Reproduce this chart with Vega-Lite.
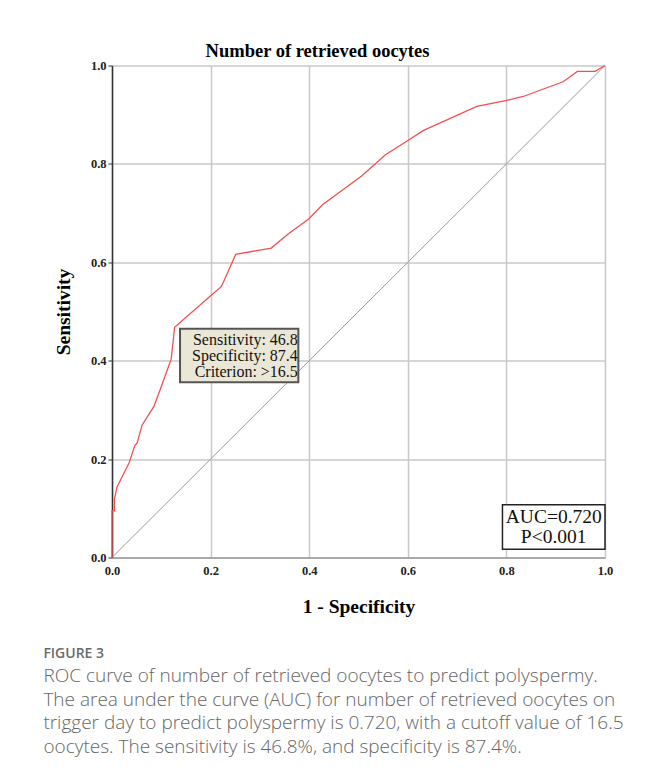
{
  "$schema": "https://vega.github.io/schema/vega-lite/v6.json",
  "background": "white",
  "padding": {"left": 43, "top": 41.5, "right": 4, "bottom": 20},
  "title": {
    "text": "FIGURE 3",
    "subtitle": [
      "ROC curve of number of retrieved oocytes to predict polyspermy.",
      "The area under the curve (AUC) for number of retrieved oocytes on",
      "trigger day to predict polyspermy is 0.720, with a cutoff value of 16.5",
      "oocytes. The sensitivity is 46.8%, and specificity is 87.4%."
    ],
    "orient": "bottom",
    "anchor": "start",
    "dx": -10,
    "offset": 31.5,
    "font": "Open Sans",
    "fontSize": 14,
    "fontWeight": 600,
    "color": "#6a6a6a",
    "subtitleFont": "Open Sans",
    "subtitleFontSize": 19,
    "subtitleFontWeight": 300,
    "subtitleColor": "#666666",
    "subtitleLineHeight": 23.5,
    "subtitlePadding": 6
  },
  "datasets": {
    "roc": [
      {"fpr": 0.0, "tpr": 0.0},
      {"fpr": 0.0, "tpr": 0.095},
      {"fpr": 0.005, "tpr": 0.095},
      {"fpr": 0.005, "tpr": 0.119},
      {"fpr": 0.01, "tpr": 0.143},
      {"fpr": 0.035, "tpr": 0.193},
      {"fpr": 0.046, "tpr": 0.227},
      {"fpr": 0.051, "tpr": 0.233},
      {"fpr": 0.061, "tpr": 0.269},
      {"fpr": 0.085, "tpr": 0.307},
      {"fpr": 0.098, "tpr": 0.342},
      {"fpr": 0.12, "tpr": 0.403},
      {"fpr": 0.127, "tpr": 0.468},
      {"fpr": 0.199, "tpr": 0.531},
      {"fpr": 0.222, "tpr": 0.551},
      {"fpr": 0.251, "tpr": 0.616},
      {"fpr": 0.323, "tpr": 0.629},
      {"fpr": 0.358, "tpr": 0.658},
      {"fpr": 0.399, "tpr": 0.688},
      {"fpr": 0.427, "tpr": 0.717},
      {"fpr": 0.507, "tpr": 0.776},
      {"fpr": 0.554, "tpr": 0.818},
      {"fpr": 0.601, "tpr": 0.848},
      {"fpr": 0.632, "tpr": 0.868},
      {"fpr": 0.676, "tpr": 0.888},
      {"fpr": 0.74, "tpr": 0.917},
      {"fpr": 0.801, "tpr": 0.929},
      {"fpr": 0.834, "tpr": 0.937},
      {"fpr": 0.915, "tpr": 0.967},
      {"fpr": 0.944, "tpr": 0.988},
      {"fpr": 0.98, "tpr": 0.988},
      {"fpr": 1.0, "tpr": 1.0}
    ],
    "diag": [
      {"fpr": 0, "tpr": 0},
      {"fpr": 1, "tpr": 1}
    ],
    "cutoff": [
      {"label": "Sensitivity: 46.8\nSpecificity: 87.4\nCriterion: >16.5"}
    ],
    "auc": [
      {"label": "AUC=0.720\nP<0.001"}
    ]
  },
  "vconcat": [
    {
      "width": 493,
      "height": 492,
      "title": {
        "text": "Number of retrieved oocytes",
        "font": "Liberation Serif",
        "fontSize": 18.5,
        "fontWeight": "bold",
        "color": "#000000",
        "anchor": "middle",
        "dx": -41,
        "offset": -1
      },
      "layer": [
        {
          "data": {"name": "diag"},
          "mark": {"type": "line", "color": "#9a9a9a", "strokeWidth": 1},
          "encoding": {
            "x": {
              "field": "fpr",
              "type": "quantitative",
              "scale": {"domain": [0, 1], "nice": false, "zero": false},
              "axis": {
                "title": "1 - Specificity",
                "values": [0, 0.2, 0.4, 0.6, 0.8, 1],
                "format": ".1f",
                "orient": "bottom",
                "ticks": false,
                "labelFlush": false,
                "domainColor": "#9a9a9a",
                "domainWidth": 1.5,
                "labelPadding": 7,
                "titlePadding": 20
              }
            },
            "y": {
              "field": "tpr",
              "type": "quantitative",
              "scale": {"domain": [0, 1], "nice": false, "zero": false},
              "axis": {
                "title": "Sensitivity",
                "values": [0, 0.2, 0.4, 0.6, 0.8, 1],
                "format": ".1f",
                "ticks": true,
                "labelFlush": false,
                "tickSize": 4,
                "tickColor": "#333333",
                "domainColor": "#333333",
                "domainWidth": 1.5,
                "labelPadding": 2,
                "titlePadding": 17
              }
            }
          }
        },
        {
          "data": {"name": "roc"},
          "mark": {"type": "line", "color": "#f2504f", "strokeWidth": 1.3},
          "encoding": {
            "x": {"field": "fpr", "type": "quantitative"},
            "y": {"field": "tpr", "type": "quantitative"},
            "order": {"value": null}
          }
        },
        {
          "data": {"name": "cutoff"},
          "mark": {"type": "rect", "fill": "#ebe7d7", "stroke": "#555555", "strokeWidth": 2},
          "encoding": {
            "x": {"datum": 0.138, "type": "quantitative"},
            "x2": {"datum": 0.378},
            "y": {"datum": 0.356, "type": "quantitative"},
            "y2": {"datum": 0.465}
          }
        },
        {
          "data": {"name": "cutoff"},
          "mark": {"type": "text", "lineBreak": "\n", "align": "right", "baseline": "middle", "font": "Liberation Serif", "fontSize": 16, "lineHeight": 16, "color": "#111111"},
          "encoding": {
            "x": {"datum": 0.377, "type": "quantitative"},
            "y": {"datum": 0.4415, "type": "quantitative"},
            "text": {"field": "label", "type": "nominal"}
          }
        },
        {
          "data": {"name": "auc"},
          "mark": {"type": "rect", "fill": "#ffffff", "stroke": "#222222", "strokeWidth": 1.5},
          "encoding": {
            "x": {"datum": 0.792, "type": "quantitative"},
            "x2": {"datum": 1.0},
            "y": {"datum": 0.017, "type": "quantitative"},
            "y2": {"datum": 0.107}
          }
        },
        {
          "data": {"name": "auc"},
          "mark": {"type": "text", "lineBreak": "\n", "align": "center", "baseline": "middle", "font": "Liberation Serif", "fontSize": 19.5, "lineHeight": 20, "color": "#111111"},
          "encoding": {
            "x": {"datum": 0.896, "type": "quantitative"},
            "y": {"datum": 0.0826, "type": "quantitative"},
            "text": {"field": "label", "type": "nominal"}
          }
        }
      ]
    }
  ],
  "config": {
    "view": {"stroke": null},
    "axis": {
      "grid": true,
      "gridColor": "#c8c8c8",
      "gridWidth": 1.5,
      "labelFont": "Liberation Serif",
      "labelFontSize": 12.5,
      "labelFontWeight": "bold",
      "labelColor": "#222222",
      "titleFont": "Liberation Serif",
      "titleFontSize": 19.5,
      "titleFontWeight": "bold",
      "titleColor": "#000000"
    }
  }
}
